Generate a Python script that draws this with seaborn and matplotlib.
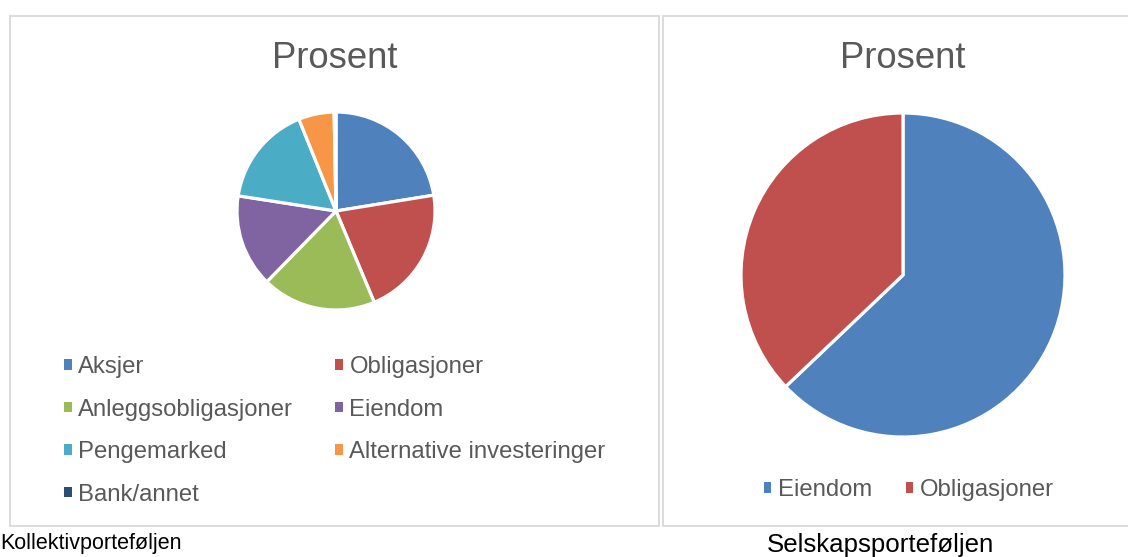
import matplotlib
matplotlib.use("Agg")
import matplotlib.pyplot as plt
import seaborn as sns
from matplotlib.patches import Rectangle, Patch

# ---- data ----
kollektiv_labels = ["Aksjer", "Obligasjoner", "Anleggsobligasjoner", "Eiendom",
                    "Pengemarked", "Alternative investeringer", "Bank/annet"]
kollektiv_values = [22.4, 21.2, 18.6, 15.1, 16.4, 5.8, 0.3]
selskap_labels = ["Eiendom", "Obligasjoner"]
selskap_values = [62.9, 37.1]
title_text = "Prosent"
caption_left = "Kollektivporteføljen"
caption_right = "Selskapsporteføljen"

kollektiv_colors = ["#4F81BD", "#C0504D", "#9BBB59", "#8064A2", "#4BACC6", "#F79646", "#2C4D75"]
selskap_colors = ["#4F81BD", "#C0504D"]

sns.set_theme(style="white")
plt.rcParams["font.family"] = ["Liberation Sans", "DejaVu Sans"]

W, H = 1128, 557
fig = plt.figure(figsize=(W / 100, H / 100), dpi=100)
fig.patch.set_facecolor("white")

def fx(px):
    return px / W

def fy(py):
    return 1 - py / H

# panel borders
for x0, x1 in [(10, 659), (663, 1129)]:
    fig.patches.append(Rectangle((fx(x0), fy(526)), fx(x1 - x0), (526 - 15.5) / H,
                                 transform=fig.transFigure, fill=False,
                                 edgecolor="#D9D9D9", linewidth=1.3, zorder=0))

def pie_axes(cx, cy, r):
    ax = fig.add_axes([fx(cx - r), fy(cy + r), fx(2 * r), 2 * r / H])
    return ax

ax1 = pie_axes(336, 211, 99)
ax1.pie(kollektiv_values, colors=kollektiv_colors, startangle=90, counterclock=False,
        wedgeprops=dict(edgecolor="white", linewidth=2.3))
ax1.set_xlim(-1, 1); ax1.set_ylim(-1, 1); ax1.set_aspect("equal"); ax1.axis("off")

ax2 = pie_axes(903, 275, 162)
ax2.pie(selskap_values, colors=selskap_colors, startangle=90, counterclock=False,
        wedgeprops=dict(edgecolor="white", linewidth=2.3))
ax2.set_xlim(-1, 1); ax2.set_ylim(-1, 1); ax2.set_aspect("equal"); ax2.axis("off")

# titles
fig.text(fx(335), fy(59), title_text, ha="center", va="center", fontsize=26.3, color="#595959")
fig.text(fx(903), fy(59), title_text, ha="center", va="center", fontsize=26.3, color="#595959")

# legends (row-major order: matplotlib fills columns first)
leg_fs = 17.2
order = [0, 2, 4, 6, 1, 3, 5]
h1 = [Patch(facecolor=kollektiv_colors[i], edgecolor="none") for i in order]
l1 = [kollektiv_labels[i] for i in order]
leg1 = fig.legend(h1, l1, ncol=2, loc="upper left",
                  bbox_to_anchor=(fx(64), fy(356)), frameon=False, fontsize=leg_fs,
                  handlelength=0.32, handleheight=0.32, handletextpad=0.28,
                  columnspacing=1.75, labelspacing=0.86, borderpad=0, borderaxespad=0)
for t in leg1.get_texts():
    t.set_color("#595959")

h2 = [Patch(facecolor=c, edgecolor="none") for c in selskap_colors]
leg2 = fig.legend(h2, selskap_labels, ncol=2, loc="center",
                  bbox_to_anchor=(fx(909), fy(490)), frameon=False, fontsize=leg_fs,
                  handlelength=0.32, handleheight=0.32, handletextpad=0.28,
                  columnspacing=1.4, borderpad=0, borderaxespad=0)
for t in leg2.get_texts():
    t.set_color("#595959")

# captions
fig.text(fx(0), fy(544), caption_left, ha="left", va="center", fontsize=15.5, color="black")
fig.text(fx(880), fy(545), caption_right, ha="center", va="center", fontsize=18.6, color="black")

fig.savefig("out.png", dpi=100, facecolor="white")
